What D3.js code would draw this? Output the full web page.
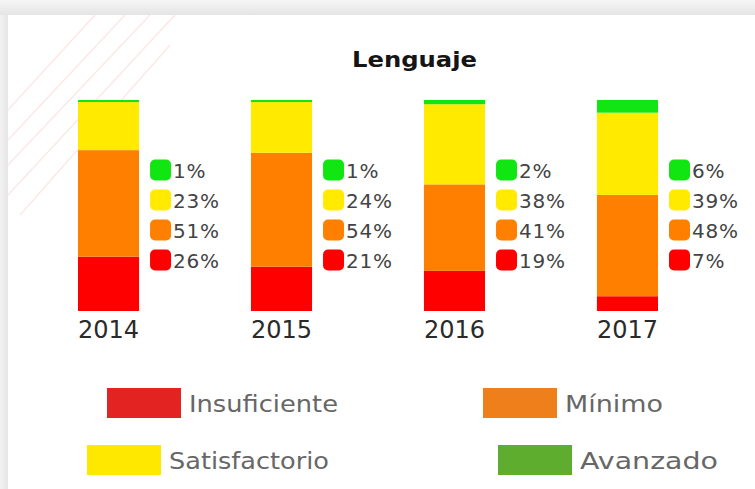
<!DOCTYPE html>
<html>
  <head>
    <meta charset="UTF-8" />
    <title>Lenguaje</title>
    <script src="https://cdnjs.cloudflare.com/ajax/libs/d3/7.8.5/d3.min.js"></script>
    <style>
      body {
        margin: 0;
        padding: 0;
        background: #fff;
      }
      svg {
        display: block;
      }
      .pct {
        font-family: "DejaVu Sans", sans-serif;
        font-size: 20px;
        fill: #444;
        letter-spacing: 0.8px;
      }
      .year {
        font-family: "DejaVu Sans", sans-serif;
        font-size: 24px;
        fill: #2a2a2a;
      }
      .leg {
        font-family: "DejaVu Sans", sans-serif;
        font-size: 23px;
        fill: #676767;
      }
    </style>
  </head>

  <body>
    <svg id="chart" width="755" height="489"></svg>

    <script>
      // data (percent of students per level)
      const years = [2014, 2015, 2016, 2017];
      const insuficiente = [26, 21, 19, 7];
      const minimo = [51, 54, 41, 48];
      const satisfactorio = [23, 24, 38, 39];
      const avanzado = [1, 1, 2, 6];

      const levels = ["Insuficiente", "Mínimo", "Satisfactorio", "Avanzado"];
      const series = [insuficiente, minimo, satisfactorio, avanzado];

      // bar colours and legend colours differ a little in the original
      const barColor = d3.scaleOrdinal(levels, ["#fe0000", "#ff7f00", "#ffea00", "#12e612"]);
      const legColor = d3.scaleOrdinal(levels, ["#e32222", "#ef7f1a", "#ffe800", "#5ead2e"]);

      const svg = d3.select("#chart");
      const W = 755, H = 489;

      // page background: grey strip on top and left, white card
      const defs = svg.append("defs");
      const gTop = defs.append("linearGradient").attr("id", "topg")
        .attr("x1", 0).attr("y1", 0).attr("x2", 0).attr("y2", 1);
      gTop.append("stop").attr("offset", 0).attr("stop-color", "#f6f6f6");
      gTop.append("stop").attr("offset", 1).attr("stop-color", "#e4e4e4");
      const gLeft = defs.append("linearGradient").attr("id", "leftg")
        .attr("x1", 0).attr("y1", 0).attr("x2", 1).attr("y2", 0);
      gLeft.append("stop").attr("offset", 0).attr("stop-color", "#f2f2f2");
      gLeft.append("stop").attr("offset", 1).attr("stop-color", "#e6e6e6");

      svg.append("rect").attr("width", W).attr("height", H).attr("fill", "#fff");
      svg.append("rect").attr("width", W).attr("height", 15).attr("fill", "url(#topg)");
      svg.append("rect").attr("y", 15).attr("width", 8).attr("height", H - 15).attr("fill", "url(#leftg)");

      // faint diagonal decoration in the corner
      const deco = svg.append("g").attr("stroke", "#fce6e6").attr("stroke-width", 1.2).attr("fill", "none");
      [[8, 110, 95, 15], [8, 140, 125, 15], [8, 165, 150, 15], [8, 195, 175, 15], [20, 215, 170, 45]]
        .forEach(([x1, y1, x2, y2]) => deco.append("line")
          .attr("x1", x1).attr("y1", y1).attr("x2", x2).attr("y2", y2));

      // title
      svg.append("text")
        .attr("x", 352).attr("y", 67)
        .attr("font-family", "DejaVu Sans, sans-serif")
        .attr("font-weight", "bold")
        .attr("font-size", 21)
        .attr("fill", "#151515")
        .attr("textLength", 125)
        .attr("lengthAdjust", "spacingAndGlyphs")
        .text("Lenguaje");

      // scales
      const x = d3.scaleBand()
        .domain(years)
        .range([78, 658])
        .paddingInner(0.647)
        .paddingOuter(0);

      const y = d3.scaleLinear().domain([0, 1]).range([311, 100]);

      const table = years.map((yr, i) => {
        const row = { year: yr };
        levels.forEach((l, j) => row[l] = series[j][i]);
        return row;
      });

      const stack = d3.stack().keys(levels).offset(d3.stackOffsetExpand);
      const stacked = stack(table);

      svg.append("g")
        .selectAll("g")
        .data(stacked)
        .join("g")
        .attr("fill", d => barColor(d.key))
        .selectAll("rect")
        .data(d => d)
        .join("rect")
        .attr("x", d => x(d.data.year))
        .attr("width", x.bandwidth())
        .attr("y", d => y(d[1]))
        .attr("height", d => y(d[0]) - y(d[1]));

      // year labels under bars
      svg.append("g")
        .selectAll("text")
        .data(years)
        .join("text")
        .attr("class", "year")
        .attr("x", d => x(d) + x.bandwidth() / 2)
        .attr("y", 338)
        .attr("text-anchor", "middle")
        .text(d => d);

      // value keys next to each bar, Avanzado on top
      const rowOrder = levels.slice().reverse();
      const rowY = d3.scalePoint().domain(rowOrder).range([170, 260]);

      years.forEach((yr, i) => {
        const gx = x(yr) + x.bandwidth() + 11;
        const g = svg.append("g").attr("transform", `translate(${gx},0)`);
        rowOrder.forEach(l => {
          const v = series[levels.indexOf(l)][i];
          g.append("rect")
            .attr("x", 0)
            .attr("y", rowY(l) - 10.5)
            .attr("width", 21)
            .attr("height", 21)
            .attr("rx", 5)
            .attr("fill", barColor(l));
          g.append("text")
            .attr("class", "pct")
            .attr("x", 23)
            .attr("y", rowY(l) + 8)
            .text(v + "%");
        });
      });

      // legend at the bottom: [x, y, text width]
      const legPos = {
        "Insuficiente": [107, 388, 149],
        "Mínimo": [483, 388, 98],
        "Satisfactorio": [87, 445, 160],
        "Avanzado": [498, 445, 138]
      };
      const leg = svg.append("g")
        .selectAll("g")
        .data(levels)
        .join("g")
        .attr("transform", d => `translate(${legPos[d][0]},${legPos[d][1]})`);
      leg.append("rect")
        .attr("width", 74)
        .attr("height", 30)
        .attr("fill", d => legColor(d));
      leg.append("text")
        .attr("class", "leg")
        .attr("x", 82)
        .attr("y", 24)
        .attr("textLength", d => legPos[d][2])
        .attr("lengthAdjust", "spacingAndGlyphs")
        .text(d => d);
    </script>
  </body>
</html>
